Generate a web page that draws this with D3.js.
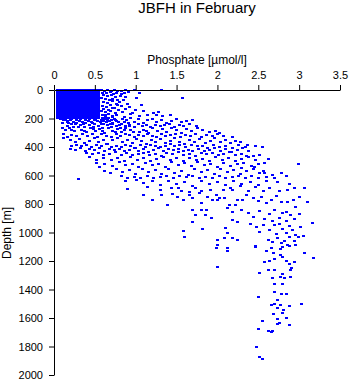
<!DOCTYPE html>
<html><head><meta charset="utf-8">
<script src="https://cdn.jsdelivr.net/npm/d3@7"></script>
<style>
body{margin:0;background:#fff}
svg{display:block}
text{font-family:"Liberation Sans",Arial,Helvetica,sans-serif;fill:#000}
</style>
</head><body>
<svg id="chart" width="350" height="384"></svg>
<script>
// ---- data ----
const titleText = "JBFH in February";
const xLabel = "Phosphate [\u00b5mol/l]";
const yLabel = "Depth [m]";
const xTicks = [0, 0.5, 1, 1.5, 2, 2.5, 3, 3.5];
const yTicks = [0, 200, 400, 600, 800, 1000, 1200, 1400, 1600, 1800, 2000];

// dense surface block: phosphate columns and depth levels that are all sampled
const blobColumns = [0.04,0.075,0.11,0.14,0.175,0.21,0.245,0.28,0.31,0.345,0.38,0.415,0.45,0.48,0.515,0.55];
const blobDepths = [0,14,28,42,56,70,84,98,112,126,140,154,168,182,196];

// [phosphate, depth] readings, surface layer (outside the dense block)
const surfacePairs = [
  [0.58,3],[0.62,8],[0.66,2],[0.70,6],[0.74,1],[0.78,9],[0.83,4],[0.88,2],[0.99,0],[1.05,20],[1.31,0],[1.57,55],
  [0.59,20],[0.64,24],[0.69,17],[0.73,27],[0.77,22],[0.82,31],[0.86,19],[0.91,14],
  [0.60,38],[0.65,44],[0.70,36],[0.75,48],[0.81,41],[0.87,52],
  [0.58,58],[0.63,64],[0.68,70],[0.72,61],[0.78,73],[0.85,68],[1.01,58],
  [0.60,84],[0.66,90],[0.71,80],[0.76,95],[0.80,86],[0.90,99],[0.78,105],[1.07,105],
  [0.59,112],[0.64,118],[0.69,108],[0.74,124],[0.83,115],[0.93,121],
  [0.61,132],[0.67,138],[0.72,128],[0.79,143],[0.88,134],[1.00,140],
  [0.58,150],[0.63,157],[0.69,147],[0.75,160],[0.84,152],[0.96,163],[1.10,148],[1.22,158],[1.28,155],
  [0.59,172],[0.63,178],[0.67,168],[0.71,182],[0.76,174],[0.86,186],[0.94,170],[1.05,180],[1.15,176],[1.25,172],[1.33,185],[1.42,178],
  [0.59,196],[0.63,190],[0.67,198],[0.71,192],[0.74,200],[0.62,206],[0.70,210],[0.66,214],[0.58,208]
];

// intermediate layer
const midPairs = [
  [0.08,205],[0.12,212],[0.16,220],[0.20,212],[0.24,222],[0.27,208],[0.31,216],[0.35,224],[0.38,210],[0.42,218],[0.46,226],[0.49,212],[0.53,220],[0.57,228],[0.60,218],[0.64,224],[0.68,220],[0.71,230],[0.75,209],[0.79,226],[0.84,203],[0.89,214],[0.94,198],[0.99,222],[1.04,207],[1.09,230],[1.14,212],[1.20,201],[1.26,225],[1.32,210],[1.38,232],[1.44,215],[1.50,205],[1.56,228],[1.62,218],[1.69,210],
  [0.14,208],[0.22,204],[0.33,206],[0.44,204],[0.51,206],[0.66,204],[0.77,216],[0.86,222],[0.18,232],[0.26,238],[0.36,236],[0.47,232],[0.58,242],[0.69,236],[0.80,246],[0.91,232],
  [0.11,235],[0.17,228],[0.22,242],[0.28,233],[0.33,248],[0.39,230],[0.44,244],[0.50,238],[0.55,252],[0.61,236],[0.66,247],[0.72,240],[0.77,256],[0.83,238],[0.88,250],[0.93,243],[0.98,258],[1.03,240],[1.08,252],[1.13,246],[1.18,259],[1.24,243],[1.30,255],[1.35,248],[1.41,240],[1.47,257],[1.53,246],[1.59,253],[1.66,242],[1.74,250],
  [0.16,256],[0.24,262],[0.37,258],[0.48,262],[0.59,264],[0.70,258],[0.81,264],[0.92,256],[0.21,278],[0.37,286],[0.48,276],[0.59,290],[0.75,296],[0.86,282],[0.97,296],[1.13,288],
  [0.10,265],[0.14,282],[0.19,270],[0.25,290],[0.30,262],[0.34,278],[0.40,296],[0.45,268],[0.51,285],[0.56,274],[0.62,300],[0.67,266],[0.72,288],[0.78,276],[0.83,298],[0.88,270],[0.94,284],[0.99,262],[1.05,292],[1.10,278],[1.16,302],[1.21,268],[1.27,286],[1.33,274],[1.38,296],[1.44,266],[1.50,282],[1.56,300],[1.62,275],[1.68,290],[1.75,270],[1.82,284],[1.90,296],[1.98,288],[2.03,300],
  [0.12,310],[0.16,330],[0.22,318],[0.28,325],[0.35,306],[0.41,322],[0.47,312],[0.53,328],[0.58,308],[0.64,320],[0.70,331],[0.76,312],[0.81,324],[0.87,306],[0.92,318],[0.98,330],[1.03,314],[1.09,326],[1.15,306],[1.20,320],[1.26,332],[1.32,310],[1.37,324],[1.43,316],[1.49,306],[1.55,328],[1.61,314],[1.67,322],[1.73,310],[1.80,330],[1.87,318],[1.94,326],[2.00,312],[2.08,322],[2.18,330],
  [0.12,340],[0.20,352],[0.26,362],[0.31,344],[0.37,370],[0.43,356],[0.49,340],[0.55,364],[0.60,348],[0.66,376],[0.72,352],[0.78,340],[0.84,366],[0.90,354],[0.96,372],[1.01,344],[1.07,360],[1.13,378],[1.19,348],[1.24,364],[1.30,342],[1.36,370],[1.42,356],[1.48,340],[1.54,362],[1.60,376],[1.66,350],[1.72,366],[1.78,344],[1.85,372],[1.91,356],[1.97,340],[2.04,364],[2.10,350],[2.16,374],[2.22,358],[2.28,368],[2.37,386],
  [0.22,392],[0.28,384],[0.34,396],[0.40,388],[0.46,400],[0.52,386],[0.58,394],[0.64,382],[0.70,398],[0.76,390],[0.82,402],[0.88,386],[0.94,396],[1.00,404],[1.06,388],[1.12,398],[1.18,384],[1.24,394],[1.30,402],[1.36,390],[1.42,380],[1.48,396],[1.54,388],[1.61,400],[1.68,384],[1.75,396],[1.82,390],[1.88,404],[1.95,386],[2.02,398],[2.10,392],[2.18,404],[2.26,388],[2.34,398],[2.46,392],[2.55,400],
  [0.20,412],[0.26,420],[0.32,408],[0.38,426],[0.44,414],[0.50,422],[0.56,410],[0.62,430],[0.68,416],[0.74,424],[0.80,412],[0.86,428],[0.92,418],[0.98,408],[1.04,426],[1.10,414],[1.16,432],[1.22,420],[1.28,410],[1.34,428],[1.40,416],[1.46,424],[1.52,412],[1.58,430],[1.64,418],[1.70,426],[1.77,412],[1.84,430],[1.90,420],[1.97,410],[2.04,426],[2.10,416],[2.17,432],[2.24,420],[2.31,410],[2.38,428],[2.44,463],
  [0.40,440],[0.47,452],[0.54,444],[0.61,458],[0.68,446],[0.75,438],[0.82,454],[0.89,442],[0.96,458],[1.03,448],[1.10,440],[1.17,456],[1.24,446],[1.31,460],[1.38,442],[1.45,452],[1.52,438],[1.59,456],[1.66,446],[1.73,460],[1.80,440],[1.87,452],[1.94,444],[2.01,458],[2.08,448],[2.15,438],[2.22,454],[2.29,446],[2.36,460],[2.52,456],
  [0.44,470],[0.52,488],[0.60,476],[0.70,494],[0.78,480],[0.86,500],[0.94,472],[1.02,490],[1.10,478],[1.18,498],[1.26,484],[1.34,470],[1.42,492],[1.50,480],[1.58,500],[1.66,474],[1.74,490],[1.82,482],[1.90,498],[1.98,470],[2.06,488],[2.14,478],[2.22,496],[2.30,484],[2.38,472],[2.46,494],[2.63,484],
  [0.52,512],[0.56,540],[0.62,520],[0.72,534],[0.80,508],[0.88,526],[0.96,516],[1.04,538],[1.12,510],[1.20,528],[1.28,518],[1.36,540],[1.44,506],[1.52,524],[1.60,514],[1.68,536],[1.76,508],[1.84,528],[1.92,518],[2.00,538],[2.08,512],[2.16,530],[2.24,520],[2.32,510],[2.42,534],[2.45,540],[2.50,522],[2.58,512],[2.99,519],
  [0.62,567],[0.69,585],[0.76,556],[0.84,574],[0.92,560],[1.00,590],[1.08,552],[1.16,578],[1.24,562],[1.32,592],[1.40,556],[1.48,582],[1.56,566],[1.64,596],[1.72,552],[1.80,576],[1.88,564],[1.96,588],[2.04,554],[2.12,572],[2.20,560],[2.28,590],[2.30,547],[2.36,568],[2.44,556],[2.52,584],[2.56,568],[2.58,582],[2.67,596],[2.78,582],
  [0.30,625],[0.83,603],[0.90,620],[0.98,608],[1.06,616],[1.14,604],[1.22,620],[1.30,610],[1.38,602],[1.46,618],[1.54,606],[1.62,614],[1.70,602],[1.78,620],[1.86,608],[1.94,616],[2.02,604],[2.10,618],[2.18,610],[2.26,602],[2.34,616],[2.42,606],[2.50,618],[2.60,610],[2.70,617],[2.85,604],
  [0.88,640],[1.01,630],[1.10,656],[1.20,642],[1.30,668],[1.40,636],[1.50,660],[1.60,646],[1.70,672],[1.80,638],[1.90,662],[2.00,648],[2.10,670],[2.20,636],[2.30,658],[2.40,644],[2.50,668],[2.60,640],[2.74,645],[2.88,660],
  [0.90,695],[1.15,680],[1.30,702],[1.44,688],[1.52,688],[1.56,710],[1.66,716],[1.73,690],[1.80,706],[1.91,702],[1.99,737],[2.07,702],[2.16,690],[2.19,702],[2.28,674],[2.38,712],[2.46,684],[2.56,706],[2.64,690],[2.76,712],[2.86,702],[2.94,688],[3.07,688]
];

// deep layer
const deepPairs = [
  [1.10,735],[1.31,737],[1.20,772],[1.39,807],[1.45,728],[1.51,751],[1.58,772],[1.66,740],[1.69,758],[1.78,726],[1.81,793],[1.88,748],[1.94,770],[2.03,758],[2.09,758],[2.00,772],[2.12,828],[2.15,807],[2.22,807],[2.25,772],[2.31,772],[2.30,842],[2.36,740],[2.44,760],[2.50,782],[2.54,748],[2.60,796],[2.66,770],[2.72,742],[2.78,786],[2.86,786],[2.93,772],[3.00,752],[3.10,786],[2.95,821],
  [1.70,842],[1.73,877],[1.69,926],[1.80,842],[1.87,842],[1.85,877],[1.93,898],[1.82,975],[2.18,856],[2.19,912],[2.24,926],[2.38,866],[2.44,890],[2.52,850],[2.58,904],[2.64,870],[2.70,840],[2.76,896],[2.85,856],[2.94,905],[2.84,918],[3.00,870],[2.90,880],[2.68,916],[2.80,860],
  [1.58,990],[1.60,1032],[2.10,968],[2.12,1004],[2.00,1053],[2.09,1039],[2.19,1039],[2.24,1053],[2.40,940],[2.52,996],[2.48,960],[2.62,1053],[2.56,950],[2.64,980],[2.70,950],[2.72,1010],[2.76,940],[2.80,975],[2.84,1000],[2.88,955],[2.92,985],[2.96,1020],[3.02,961],[3.05,1025],[2.99,1032],[3.16,933],[2.74,1040],[2.82,1060],[2.88,1030],[2.68,1070],[2.78,1075],[2.94,1060],[2.86,1090],[2.46,1095],[2.12,1109],[2.12,1130],[1.99,1109],[2.00,1088],
  [2.47,1102],[2.60,1130],[2.66,1110],[2.69,1144],[2.77,1116],[2.80,1102],[2.88,1095],[2.95,1088],[3.07,1144],[3.17,1179],[2.57,1207],[2.64,1200],[2.70,1186],[2.77,1158],[2.80,1172],[2.85,1200],[2.88,1221],[2.91,1249],[2.94,1207],[2.62,1263],[2.70,1263],[2.80,1291],[2.90,1263],[2.51,1284],[2.77,1312],[2.82,1319],[2.90,1312],[2.68,1319],[2.70,1362],[2.80,1362],[2.70,1418],[2.79,1432],[2.85,1432],[2.50,1453],[2.73,1474],[2.66,1509],[2.70,1502],[2.77,1509],[2.74,1530],[2.81,1544],[2.88,1516],[3.03,1502],[2.69,1572],[2.80,1565],[2.85,1600],[2.74,1607],[2.73,1642],[2.76,1635],[2.88,1649],[2.55,1621],[2.50,1677],[2.62,1691],[2.67,1691],[2.66,1698],[2.48,1804],[2.51,1874],[2.55,1888],[2.00,1242]
];

// ---- build point table ----
const points = [];
blobDepths.forEach(d => blobColumns.forEach(p => points.push({p, d})));
surfacePairs.concat(midPairs, deepPairs).forEach(([p, d]) => points.push({p, d}));

// ---- chart ----
const svg = d3.select("#chart");
const x = d3.scaleLinear().domain([0, 3.5]).range([54, 340]);
const y = d3.scaleLinear().domain([0, 2000]).range([90, 375]);

svg.append("g")
  .selectAll("rect")
  .data(points)
  .join("rect")
  .attr("x", d => Math.round(x(d.p) - 1.5))
  .attr("y", d => Math.round(y(d.d) - 1))
  .attr("width", 3)
  .attr("height", 2)
  .attr("fill", "#0000ff")
  .attr("shape-rendering", "crispEdges");

const xAxis = svg.append("g")
  .attr("transform", "translate(0,90)")
  .call(d3.axisTop(x).tickValues(xTicks).tickSize(5).tickSizeOuter(0).tickPadding(6).tickFormat(d3.format("")));
const yAxis = svg.append("g")
  .attr("transform", "translate(54,0)")
  .call(d3.axisLeft(y).tickValues(yTicks).tickSize(5).tickSizeOuter(0).tickPadding(6).tickFormat(d3.format("")));

[xAxis, yAxis].forEach(g => {
  g.attr("font-family", null).attr("font-size", null);
  g.selectAll("text").attr("font-size", 11).attr("fill", "#000");
  g.selectAll("line,path").attr("stroke", "#000");
});

svg.append("text")
  .attr("x", 197).attr("y", 13)
  .attr("text-anchor", "middle")
  .attr("font-size", 15)
  .text(titleText);

svg.append("text")
  .attr("x", 197).attr("y", 64)
  .attr("text-anchor", "middle")
  .attr("font-size", 12)
  .text(xLabel);

svg.append("text")
  .attr("transform", "translate(11,233) rotate(-90)")
  .attr("text-anchor", "middle")
  .attr("font-size", 12)
  .text(yLabel);
</script>
</body></html>
